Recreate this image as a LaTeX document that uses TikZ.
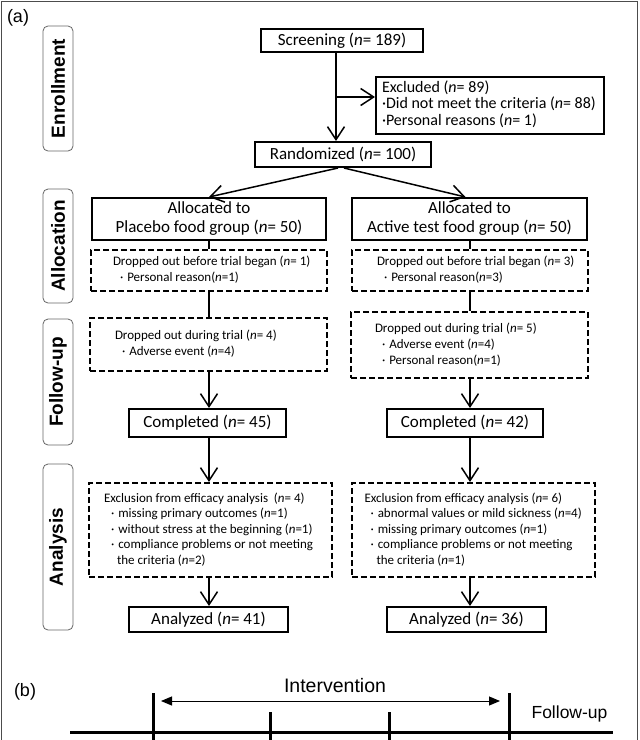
\documentclass[tikz,border=0pt]{standalone}
\usepackage{fontspec}
\setmainfont{Carlito}
\newfontfamily\arialf{Liberation Sans}
\usetikzlibrary{arrows.meta}
\newcommand{\lblk}[3]{\makebox[#1][l]{\hspace*{#2}\begin{tabular}{@{}l@{}}#3\end{tabular}}}
\newcommand{\bul}{\textperiodcentered}
\newcommand{\nn}{\textit{n}}
\begin{document}
\begin{tikzpicture}[x=1pt,y=-1pt,
 sbox/.style={draw, line width=2pt, inner sep=0pt, font=\fontsize{17}{19}\selectfont, align=center},
 dbox/.style={draw, line width=2pt, dash pattern=on 6pt off 3pt, inner sep=0pt},
 small/.style={font=\fontsize{13}{16}\selectfont},
 conn/.style={line width=1.5pt},
 arr/.style={conn, -{Straight Barb[length=13pt,width=17pt,line width=1.5pt]}},
 stage/.style={draw=black!60, line width=0.8pt, rounded corners=5pt, minimum height=30pt, inner sep=0pt, font=\arialf\bfseries\fontsize{19}{19}\selectfont, rotate=90},
 lab/.style={font=\arialf\fontsize{18}{18}\selectfont, inner sep=0pt},
 tick/.style={line width=3pt}
]
\useasboundingbox (0,0) rectangle (640,740);
\fill[white] (0,0) rectangle (640,740);
\draw[black!70, line width=1pt] (1,760) -- (1,1) -- (637.5,1) -- (637.5,760);

\node[lab] (la) at (18,18) {(a)};

% stage labels
\node[stage, minimum width=125pt] (s1) at (58,88.5) {Enrollment};
\node[stage, minimum width=114pt] (s2) at (58,246) {Allocation};
\node[stage, minimum width=126pt] (s3) at (58,382) {Follow-up};
\node[stage, minimum width=166pt] (s4) at (58,547) {Analysis};

% top
\node[sbox, minimum width=162pt, minimum height=23pt] (screen) at (342,40.5) {Screening (\nn= 189)};
\node[draw, line width=2pt, inner sep=0pt, minimum width=228pt, minimum height=57pt,
      font=\fontsize{16}{16.5}\selectfont] (excl) at (490,105.5)
      {\lblk{228pt}{6pt}{Excluded (\nn= 89)\\ \bul Did not meet the criteria (\nn= 88)\\ \bul Personal reasons (\nn= 1)}};
\node[sbox, minimum width=176pt, minimum height=25pt] (rand) at (343,154.5) {Randomized (\nn= 100)};

\coordinate (vx) at (336,0);
\coordinate (br) at (336,97);
\draw[arr] (screen.south -| vx) -- (rand.north -| vx);
\draw[arr] (br) -- (br -| excl.west);

% allocation
\node[sbox, minimum width=234pt, minimum height=42pt] (allocL) at (209,219) {Allocated to\\Placebo food group (\nn= 50)};
\node[sbox, minimum width=235pt, minimum height=42pt] (allocR) at (469.5,219) {Allocated to\\Active test food group (\nn= 50)};
\draw[arr] ([xshift=-5pt]rand.south) -- (allocL.north);
\draw[arr] ([xshift=1pt]rand.south) -- ([xshift=-4pt]allocR.north);

\coordinate (cL) at (209,0);
\coordinate (cR) at (470,0);

\node[dbox, small, minimum width=236pt, minimum height=41pt] (d1L) at (209,270.5)
  {\lblk{236pt}{22pt}{Dropped out before trial began (\nn= 1)\\ \hspace*{7pt}\bul\hspace*{4pt}Personal reason(\nn=1)}};
\node[dbox, small, minimum width=236pt, minimum height=41pt] (d1R) at (470,270.5)
  {\lblk{236pt}{25pt}{Dropped out before trial began (\nn= 3)\\ \hspace*{7pt}\bul\hspace*{4pt}Personal reason(\nn=3)}};

\node[dbox, small, minimum width=237pt, minimum height=53pt] (fL) at (208.5,344.5)
  {\lblk{237pt}{25pt}{Dropped out during trial (\nn= 4)\\ \hspace*{7pt}\bul\hspace*{4pt}Adverse event (\nn=4)}};
\node[dbox, small, minimum width=237pt, minimum height=66pt] (fR) at (469.5,345)
  {\lblk{237pt}{24pt}{Dropped out during trial (\nn= 5)\\ \hspace*{7pt}\bul\hspace*{4pt}Adverse event (\nn=4)\\ \hspace*{7pt}\bul\hspace*{4pt}Personal reason(\nn=1)}};

\node[sbox, minimum width=157pt, minimum height=28pt] (cpL) at (207.5,423) {Completed (\nn= 45)};
\node[sbox, minimum width=156pt, minimum height=28pt] (cpR) at (465,423) {Completed (\nn= 42)};

\node[dbox, font=\fontsize{13}{15.5}\selectfont, minimum width=243pt, minimum height=94pt] (eL) at (210.5,530)
  {\lblk{243pt}{15pt}{Exclusion from efficacy analysis\ \ (\nn= 4)\\
   \hspace*{7pt}\bul\hspace*{4pt}missing primary outcomes (\nn=1)\\
   \hspace*{7pt}\bul\hspace*{4pt}without stress at the beginning (\nn=1)\\
   \hspace*{7pt}\bul\hspace*{4pt}compliance problems or not meeting\\
   \hspace*{13pt}the criteria (\nn=2)}};
\node[dbox, font=\fontsize{13}{15.5}\selectfont, minimum width=243pt, minimum height=94pt] (eR) at (473.5,530)
  {\lblk{243pt}{12.5pt}{Exclusion from efficacy analysis (\nn= 6)\\
   \hspace*{6pt}\bul\hspace*{4pt}abnormal values or mild sickness (\nn=4)\\
   \hspace*{6pt}\bul\hspace*{4pt}missing primary outcomes (\nn=1)\\
   \hspace*{6pt}\bul\hspace*{4pt}compliance problems or not meeting\\
   \hspace*{12pt}the criteria (\nn=1)}};

\node[sbox, minimum width=159pt, minimum height=25pt] (aL) at (208.5,619.5) {Analyzed (\nn= 41)};
\node[sbox, minimum width=159pt, minimum height=25pt] (aR) at (466.5,619.5) {Analyzed (\nn= 36)};

% vertical connectors
\draw[conn] (allocL.south -| cL) -- (d1L.north -| cL);
\draw[conn] (d1L.south -| cL) -- (fL.north -| cL);
\draw[arr] (fL.south -| cL) -- (cpL.north -| cL);
\draw[arr] (cpL.south -| cL) -- (eL.north -| cL);
\draw[arr] (eL.south -| cL) -- (aL.north -| cL);
\draw[conn] (allocR.south -| cR) -- (d1R.north -| cR);
\draw[conn] (d1R.south -| cR) -- (fR.north -| cR);
\draw[arr] (fR.south -| cR) -- (cpR.north -| cR);
\draw[arr] (cpR.south -| cR) -- (eR.north -| cR);
\draw[arr] (eR.south -| cR) -- (aR.north -| cR);

% (b) timeline
\node[lab] (lb) at (25,692) {(b)};
\node[lab, font=\arialf\fontsize{19.5}{19.5}\selectfont] (iv) at (335,686) {Intervention};
\node[lab, font=\arialf\fontsize{17.5}{17.5}\selectfont] (fu) at (569.5,714) {Follow-up};
\coordinate (ia) at (161,701);
\coordinate (ib) at (500,701);
\draw[line width=1pt, {Triangle[length=11pt,width=9pt]}-{Triangle[length=11pt,width=9pt]}] (ia) -- (ib);
\coordinate (h0) at (70,732);
\coordinate (h1) at (613,732);
\draw[tick] (h0) -- (h1);
\draw[tick] (153,693) -- (153,745);
\draw[tick] (270.5,712) -- (270.5,745);
\draw[tick] (389.5,712) -- (389.5,745);
\draw[tick] (509,693) -- (509,745);
\end{tikzpicture}
\end{document}
